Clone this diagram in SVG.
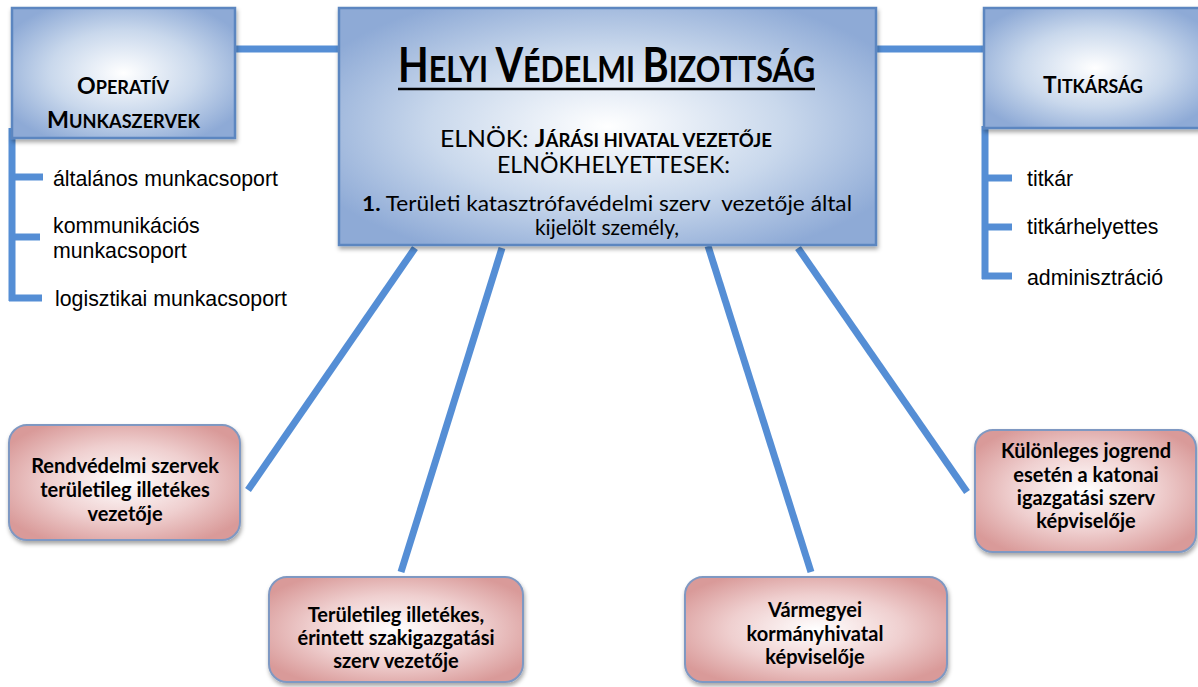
<svg xmlns="http://www.w3.org/2000/svg" width="1198" height="687" viewBox="0 0 1198 687">
<defs>
<radialGradient id="gBlue" cx="50%" cy="50%" r="60%">
<stop offset="0" stop-color="#ffffff"/>
<stop offset="0.55" stop-color="#c9d8ec"/>
<stop offset="1" stop-color="#8eaad6"/>
</radialGradient>
<radialGradient id="gRed" cx="50%" cy="50%" r="60%">
<stop offset="0" stop-color="#ffffff"/>
<stop offset="0.55" stop-color="#efcfcf"/>
<stop offset="1" stop-color="#d99a99"/>
</radialGradient>
<filter id="sh" x="-10%" y="-10%" width="125%" height="130%">
<feDropShadow dx="1" dy="3" stdDeviation="2" flood-color="#000" flood-opacity="0.35"/>
</filter>
</defs>
<style>
.blue{fill:url(#gBlue);stroke:#5b86c0;stroke-width:2.5;filter:url(#sh)}
.red{fill:url(#gRed);stroke:#7f98c2;stroke-width:2;filter:url(#sh)}
.con{stroke:#558ed5;stroke-width:7;fill:none;stroke-linecap:butt}
.hd{font-family:Lato,"Open Sans",sans-serif;font-weight:bold;fill:#000}
.mt{font-family:Lato,"Open Sans",sans-serif;fill:#000}
.li{font-family:"Liberation Sans",Arial,sans-serif;font-size:21.3px;fill:#000}
.rt{font-family:Lato,"Open Sans",sans-serif;font-weight:bold;font-size:20px;fill:#000;text-anchor:middle}
</style>
<g id="connectors">
<line class="con" x1="230" y1="49" x2="341" y2="49"/>
<line class="con" x1="874" y1="49" x2="986" y2="49"/>
<line class="con" x1="12" y1="128" x2="12" y2="301"/>
<line class="con" x1="9" y1="177" x2="43" y2="177"/>
<line class="con" x1="9" y1="237" x2="40" y2="237"/>
<line class="con" x1="9" y1="298" x2="42" y2="298"/>
<line class="con" x1="985" y1="126" x2="985" y2="279"/>
<line class="con" x1="982" y1="178" x2="1012" y2="178"/>
<line class="con" x1="982" y1="227" x2="1012" y2="227"/>
<line class="con" x1="982" y1="276" x2="1012" y2="276"/>
<line class="con" x1="415" y1="248" x2="248" y2="490"/>
<line class="con" x1="502" y1="248" x2="401" y2="572"/>
<line class="con" x1="708" y1="246" x2="811" y2="572"/>
<line class="con" x1="798" y1="248" x2="967" y2="492"/>
</g>
<g id="operativ">
<rect class="blue" x="12" y="8" width="223" height="130"/>
<text class="hd" x="77" y="94" textLength="92" lengthAdjust="spacingAndGlyphs"><tspan font-size="23">O</tspan><tspan font-size="18">PERATÍV</tspan></text>
<text class="hd" x="47" y="128" textLength="153" lengthAdjust="spacingAndGlyphs"><tspan font-size="23">M</tspan><tspan font-size="18">UNKASZERVEK</tspan></text>
</g>
<g id="operativ-list">
<text class="li" x="53" y="186">általános munkacsoport</text>
<text class="li" x="53" y="233">kommunikációs</text>
<text class="li" x="53" y="258">munkacsoport</text>
<text class="li" x="55" y="306">logisztikai munkacsoport</text>
</g>
<g id="hvb">
<rect class="blue" x="339" y="8" width="537" height="237"/>
<text class="hd" transform="translate(398,82) scale(0.86,1)" x="0" y="0" textLength="485" lengthAdjust="spacingAndGlyphs"><tspan font-size="47">H</tspan><tspan font-size="36">ELYI </tspan><tspan font-size="47">V</tspan><tspan font-size="36">ÉDELMI </tspan><tspan font-size="47">B</tspan><tspan font-size="36">IZOTTSÁG</tspan></text>
<line x1="398" y1="89" x2="815" y2="89" stroke="#000" stroke-width="2.5"/>
<text class="mt" x="440" y="147" textLength="332" lengthAdjust="spacingAndGlyphs"><tspan font-size="24">ELNÖK: </tspan><tspan font-size="24" font-weight="bold">J</tspan><tspan font-size="18" font-weight="bold">ÁRÁSI HIVATAL VEZETŐJE</tspan></text>
<text class="mt" x="497" y="173" font-size="23" textLength="233" lengthAdjust="spacingAndGlyphs">ELNÖKHELYETTESEK:</text>
<text class="mt" x="362" y="211" font-size="21" textLength="490" lengthAdjust="spacingAndGlyphs" xml:space="preserve"><tspan font-weight="bold">1.</tspan> Területi katasztrófavédelmi szerv  vezetője által</text>
<text class="mt" x="607" y="235" font-size="21" text-anchor="middle">kijelölt személy,</text>
</g>
<g id="titkarsag">
<rect class="blue" x="984" y="8" width="222" height="120"/>
<text class="hd" x="1043" y="93" textLength="100" lengthAdjust="spacingAndGlyphs"><tspan font-size="23">T</tspan><tspan font-size="18">ITKÁRSÁG</tspan></text>
</g>
<g id="titkarsag-list">
<text class="li" x="1027" y="186">titkár</text>
<text class="li" x="1027" y="234">titkárhelyettes</text>
<text class="li" x="1027" y="285">adminisztráció</text>
</g>
<g id="rendvedelmi">
<rect class="red" x="9" y="425" width="231" height="115" rx="18"/>
<text class="rt" x="125" y="473">Rendvédelmi szervek</text>
<text class="rt" x="125" y="497">területileg illetékes</text>
<text class="rt" x="125" y="521">vezetője</text>
</g>
<g id="szakigazgatasi">
<rect class="red" x="269" y="577" width="254" height="105" rx="18"/>
<text class="rt" x="396" y="622">Területileg illetékes,</text>
<text class="rt" x="396" y="645">érintett szakigazgatási</text>
<text class="rt" x="396" y="668">szerv vezetője</text>
</g>
<g id="kormanyhivatal">
<rect class="red" x="685" y="577" width="262" height="105" rx="18"/>
<text class="rt" x="815" y="617">Vármegyei</text>
<text class="rt" x="815" y="641">kormányhivatal</text>
<text class="rt" x="815" y="664">képviselője</text>
</g>
<g id="katonai">
<rect class="red" x="975" y="430" width="221" height="122" rx="18"/>
<text class="rt" x="1086" y="458">Különleges jogrend</text>
<text class="rt" x="1086" y="482">esetén a katonai</text>
<text class="rt" x="1086" y="505">igazgatási szerv</text>
<text class="rt" x="1086" y="528">képviselője</text>
</g>
</svg>
